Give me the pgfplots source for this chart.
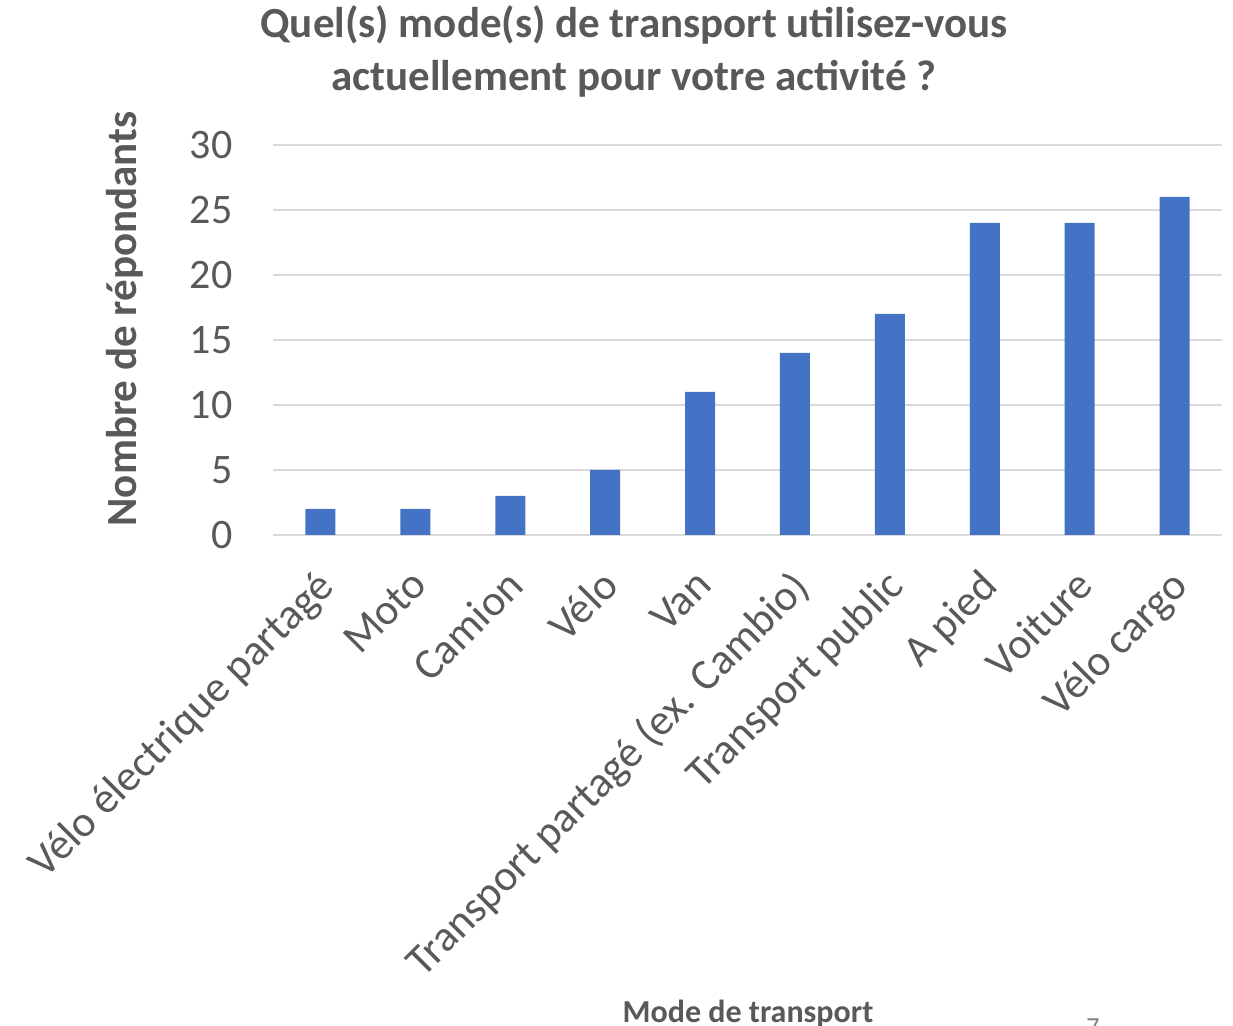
\documentclass[border=0pt]{standalone}
\usepackage{pgfplots}
\pgfplotsset{compat=1.18}
\usepackage{fontspec}
\setmainfont{Carlito}
\definecolor{barblue}{HTML}{4472C4}
\definecolor{txt}{HTML}{595959}
\definecolor{gridc}{HTML}{D9D9D9}
\begin{document}
\begin{tikzpicture}[x=1pt,y=1pt]
\useasboundingbox (0,0) rectangle (1233,1025);
\begin{axis}[
  at={(273pt,490pt)}, anchor=south west,
  scale only axis, width=949pt, height=390pt,
  xmin=-0.5, xmax=9.5, ymin=0, ymax=30,
  ytick={0,5,...,30},
  xtick={0,...,9},
  xticklabels={V\'elo \'electrique partag\'e, Moto, Camion, V\'elo, Van, Transport partag\'e (ex. Cambio), Transport public, A pied, Voiture, V\'elo cargo},
  axis line style={draw=none},
  tick style={draw=none},
  ymajorgrids, grid style={gridc, line width=1.5pt},
  /pgf/number format/assume math mode=true,
  y tick label style={font=\fontsize{42}{50}\selectfont, text=txt, xshift=-37pt},
  x tick label style={xshift=-6pt, yshift=-25pt, rotate=45, anchor=north east, font=\fontsize{43.5}{52}\selectfont, text=txt, inner sep=2pt},
  ybar, bar width=30pt,
]
\addplot[fill=barblue, draw=none] coordinates {(0,2) (1,2) (2,3) (3,5) (4,11) (5,14) (6,17) (7,24) (8,24) (9,26)};
\end{axis}
\node[anchor=north, align=center, text=txt, font=\fontsize{43}{53}\selectfont\bfseries] at (634,1023) {Quel(s) mode(s) de transport utilisez-vous\\actuellement pour votre activit\'e ?};
\node[rotate=90, text=txt, font=\fontsize{43}{50}\selectfont\bfseries] at (125,706) {Nombre de r\'epondants};
\node[anchor=base, text=txt, font=\fontsize{32}{38}\selectfont\bfseries] at (748,3) {Mode de transport};
\node[anchor=base, text=gray, font=\fontsize{26}{30}\selectfont] at (1093,-10) {7};
\end{tikzpicture}
\end{document}
